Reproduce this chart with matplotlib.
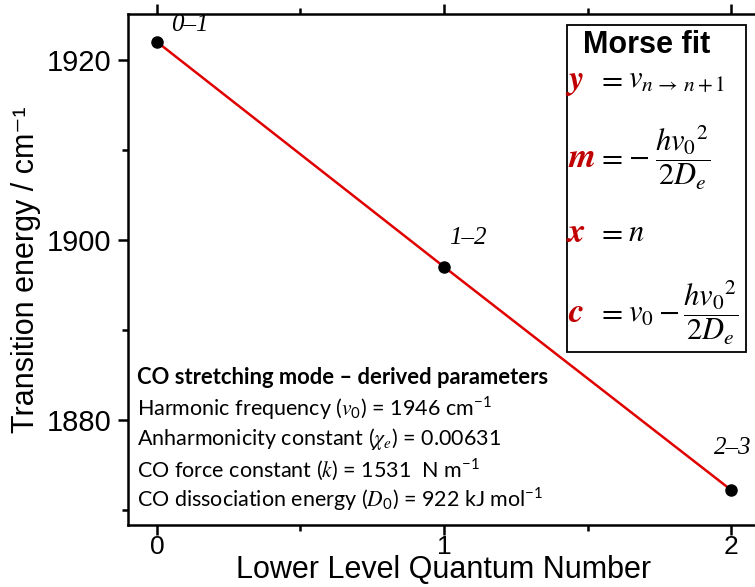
import matplotlib
matplotlib.use('Agg')
import matplotlib.pyplot as plt
from matplotlib.patches import Rectangle
from matplotlib.ticker import MultipleLocator

# CO stretching overtone transitions
n_lower = [0, 1, 2]
energy = [1922.0, 1897.0, 1872.2]
trans_labels = ['0–1', '1–2', '2–3']
label_offsets = [(10, 4), (4, 13), (-12, 22)]

param_title = 'CO stretching mode – derived parameters'
param_lines = [
    r'Harmonic frequency ($v_0$) = 1946 cm$^{-1}$',
    r'Anharmonicity constant ($\chi_e$) = 0.00631',
    r'CO force constant ($k$) = 1531  N m$^{-1}$',
    r'CO dissociation energy ($D_0$) = 922 kJ mol$^{-1}$',
]

morse_vars = ['y', 'm', 'x', 'c']
morse_rhs = [
    r'$v_{n\,\rightarrow\,n+1}$',
    r'$-\;\dfrac{h{v_0}^{2}}{2D_e}$',
    r'$n$',
    r'$v_0 - \dfrac{h{v_0}^{2}}{2D_e}$',
]

plt.rcParams['font.family'] = ['Liberation Sans', 'DejaVu Sans']
plt.rcParams['mathtext.fontset'] = 'custom'
plt.rcParams['mathtext.rm'] = 'Lato'
plt.rcParams['mathtext.it'] = 'STIXGeneral:italic'
plt.rcParams['mathtext.bf'] = 'Lato:bold'

W, H = 755, 587
fig = plt.figure(figsize=(W / 100, H / 100), dpi=100)


def fx(px):
    return px / W


def fy(py):
    return 1 - py / H


ax = fig.add_axes([fx(128), fy(525), fx(760) - fx(128), fy(14) - fy(525)])
ax.plot(n_lower, energy, color='#e00000', lw=1.8, zorder=2)
ax.plot(n_lower, energy, 'o', color='black', ms=8, zorder=3)

for xv, yv, lab, off in zip(n_lower, energy, trans_labels, label_offsets):
    ax.annotate(lab, (xv, yv), xytext=off, textcoords='offset points',
                fontsize=18, fontfamily='Liberation Serif', fontstyle='italic',
                ha='left', va='bottom')

ax.set_xlim(-0.101, 2.101)
ax.set_ylim(1868.3, 1925.1)
ax.xaxis.set_major_locator(MultipleLocator(1))
ax.xaxis.set_minor_locator(MultipleLocator(0.5))
ax.yaxis.set_major_locator(MultipleLocator(20))
ax.yaxis.set_minor_locator(MultipleLocator(10))
for s in ax.spines.values():
    s.set_linewidth(1.8)
ax.tick_params(which='both', width=1.8, labelsize=21)
ax.tick_params(axis='x', which='major', direction='out', length=7, pad=0, labelsize=19)
ax.tick_params(axis='y', which='major', direction='out', length=7, pad=5)
ax.tick_params(which='minor', direction='out', length=4)
ax.tick_params(axis='x', which='both', top=True)
ax.tick_params(axis='y', which='both', right=True)

ax.set_xlabel('Lower Level Quantum Number', fontsize=22, labelpad=-3)
ax.set_ylabel('Transition energy / cm⁻¹', fontsize=22, labelpad=4)

# derived parameter block
fig.text(fx(137), fy(377), param_title, fontsize=15.8, fontfamily='Lato',
         fontweight='bold', va='center', ha='left')
for i, line in enumerate(param_lines):
    fig.text(fx(137), fy(408 + 30.5 * i), line, fontsize=15.5, fontfamily='Lato',
             va='center', ha='left')

# Morse fit box
fig.add_artist(Rectangle((fx(567), fy(352)), fx(746) - fx(567), fy(25) - fy(352),
                         transform=fig.transFigure, facecolor='white',
                         edgecolor='black', lw=1.3, zorder=5))
fig.text(fx(647), fy(45), 'Morse fit', fontsize=22, fontweight='bold',
         ha='center', va='center', zorder=6)
eq_y = [80, 158, 233, 313]
for var, rhs, py in zip(morse_vars, morse_rhs, eq_y):
    fig.text(fx(568), fy(py), var, fontsize=25, color='#c00000',
             fontfamily='STIXGeneral', fontstyle='italic', fontweight='bold',
             ha='left', va='center', zorder=6)
    fig.text(fx(597), fy(py), '$=$', fontsize=22, math_fontfamily='stix',
             ha='left', va='center', zorder=6)
    fig.text(fx(628), fy(py), rhs, fontsize=22, math_fontfamily='stix',
             ha='left', va='center', zorder=6)

fig.savefig('out.png', dpi=100)
